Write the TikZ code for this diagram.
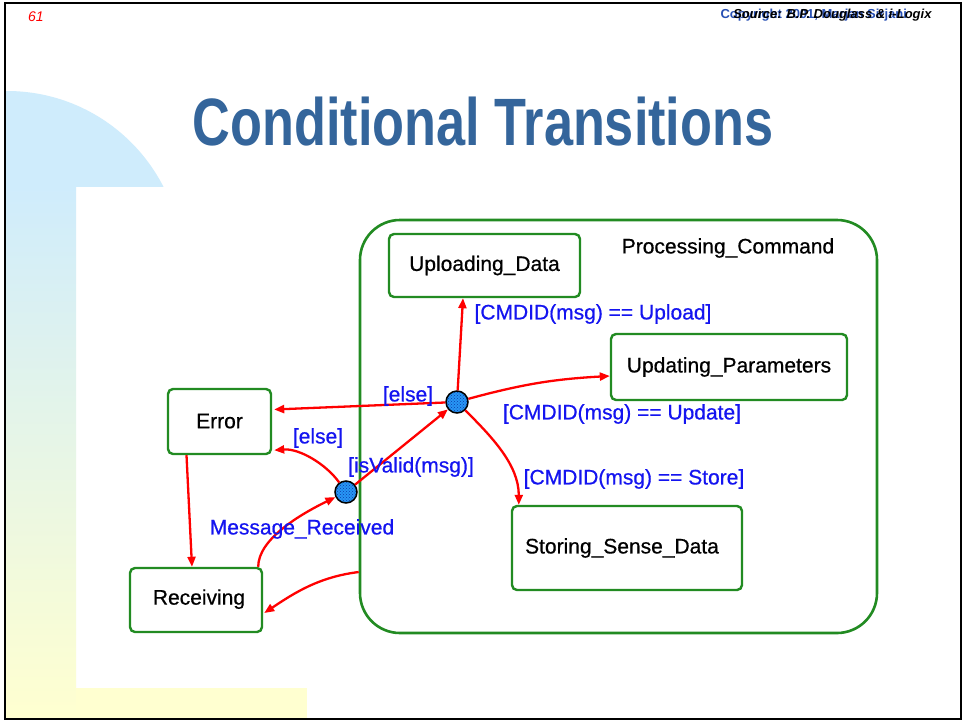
\documentclass[tikz,border=0pt]{standalone}
\usepackage{fontspec}
\setmainfont{Liberation Sans}
\newfontfamily\titlefont[FakeStretch=0.78]{Liberation Sans}
\newfontfamily\diagfont[FakeBold=0.6]{Liberation Sans}
\usetikzlibrary{arrows.meta,patterns}

\definecolor{stategreen}{RGB}{34,139,34}
\definecolor{guardblue}{RGB}{20,20,240}
\definecolor{titleblue}{RGB}{52,101,155}
\definecolor{skyband}{RGB}{207,236,252}
\definecolor{mintband}{RGB}{222,242,236}
\definecolor{paleyellow}{RGB}{255,255,208}
\definecolor{juncblue}{RGB}{40,150,245}
\definecolor{credblue}{RGB}{40,80,180}

\tikzset{
  statebox/.style={draw=stategreen, line width=2.4pt, rounded corners=5pt,
    font=\diagfont\fontsize{21}{24}\selectfont, inner sep=0pt},
  superstate/.style={draw=stategreen, line width=2.6pt, rounded corners=40pt, inner sep=0pt},
  junc/.style={circle, minimum size=22pt, inner sep=0pt, draw=black, line width=1.5pt,
    preaction={fill=juncblue}, pattern=crosshatch dots, pattern color={rgb,255:red,10;green,60;blue,170}},
  tr/.style={draw=red, line width=2.3pt, -{Triangle[length=10pt,width=8pt]}},
  guard/.style={text=guardblue, font=\diagfont\fontsize{21}{24}\selectfont, inner sep=0pt},
  plain/.style={font=\diagfont\fontsize{21}{24}\selectfont, inner sep=0pt}
}

\begin{document}
\begin{tikzpicture}[x=1pt,y=-1pt]
\useasboundingbox (0,0) rectangle (964,721);
\fill[white] (0,0) rectangle (964,721);

% decorative background: quarter disc, left strip and bottom band
\begin{scope}
  \clip (5,91) rectangle (170,186);
  \fill[skyband] (7,266.6) circle (175.6pt);
\end{scope}
\shade[top color=skyband, middle color=mintband, bottom color=paleyellow] (5,185) rectangle (76,718);
\fill[paleyellow] (76,688) rectangle (307,718);

% slide frame and header
\draw[line width=2pt, black] (5,3) rectangle (961,719);
\node[text=red, font=\fontsize{14}{14}\selectfont\itshape] (pageno) at (36,17) {61};
\node[anchor=west, text=credblue, font=\fontsize{13}{13}\selectfont\bfseries] (copy) at (717,15) {Copyright 2001, Marjan Sirjani};
\node[anchor=east, text=black, font=\fontsize{13}{13}\selectfont\bfseries\itshape] (source) at (935,15) {Source: B.P. Douglass \& i-Logix};

% title
\node[anchor=base, text=titleblue, font=\titlefont\bfseries\fontsize{67}{67}\selectfont] (title) at (483,145) {Conditional Transitions};

% states
\node[superstate, minimum width=517pt, minimum height=413pt] (pc) at (618.5,426.5) {};
\node[plain] (pclabel) at (728,248) {Processing\_Command};
\node[statebox, minimum width=191pt, minimum height=63pt] (up) at (484.5,265.5) {\raisebox{2pt}{Uploading\_Data}};
\node[statebox, minimum width=236pt, minimum height=66pt] (upd) at (729,367) {\raisebox{4pt}{Updating\_Parameters}};
\node[statebox, minimum width=230pt, minimum height=84pt] (st) at (627,548) {\hspace*{-10pt}Storing\_Sense\_Data};
\node[statebox, minimum width=103pt, minimum height=65pt] (err) at (219.5,421.5) {\raisebox{1pt}{Error}};
\node[statebox, minimum width=132pt, minimum height=64pt] (rcv) at (196,600) {\raisebox{6pt}{\hspace*{6pt}Receiving}};

% condition connectors
\node[junc] (j1) at (346,492) {};
\node[junc] (j2) at (457,402) {};

% transitions
\draw[tr] ([xshift=-5pt]rcv.north east) .. controls +(0,-28) and +(-45,22) .. (j1);
\draw[tr] (j1) .. controls +(-20,-28) and +(25,-2) .. ([yshift=5pt,xshift=2pt]err.south east);
\draw[tr] (j1) -- (j2);
\draw[tr] (j2) -- ([yshift=12pt,xshift=2pt]err.east);
\draw[tr] (j2) -- ([xshift=-21.5pt]up.south);
\draw[tr] (j2) to[bend left=6] ([yshift=-9pt]upd.west);
\draw[tr] (j2) .. controls +(35,35) and +(0,-40) .. ([xshift=8pt]st.north west);
\draw[tr] ([xshift=-33pt]err.south) -- ([xshift=-4pt]rcv.north);
\draw[tr] ([yshift=-145.5pt]pc.west) .. controls +(-40,5) and +(30,-20) .. ([yshift=-13pt,xshift=1pt]rcv.east);

% guards and trigger
\node[guard] (g1) at (593,314) {[CMDID(msg) == Upload]};
\node[guard] (g2) at (622,414) {[CMDID(msg) == Update]};
\node[guard] (g3) at (634,479) {[CMDID(msg) == Store]};
\node[guard] (g4) at (408,396) {[else]};
\node[guard] (g5) at (318,438) {[else]};
\node[guard] (g6) at (411,467) {[isValid(msg)]};
\node[guard] (g7) at (302,529) {Message\_Received};
\end{tikzpicture}
\end{document}
